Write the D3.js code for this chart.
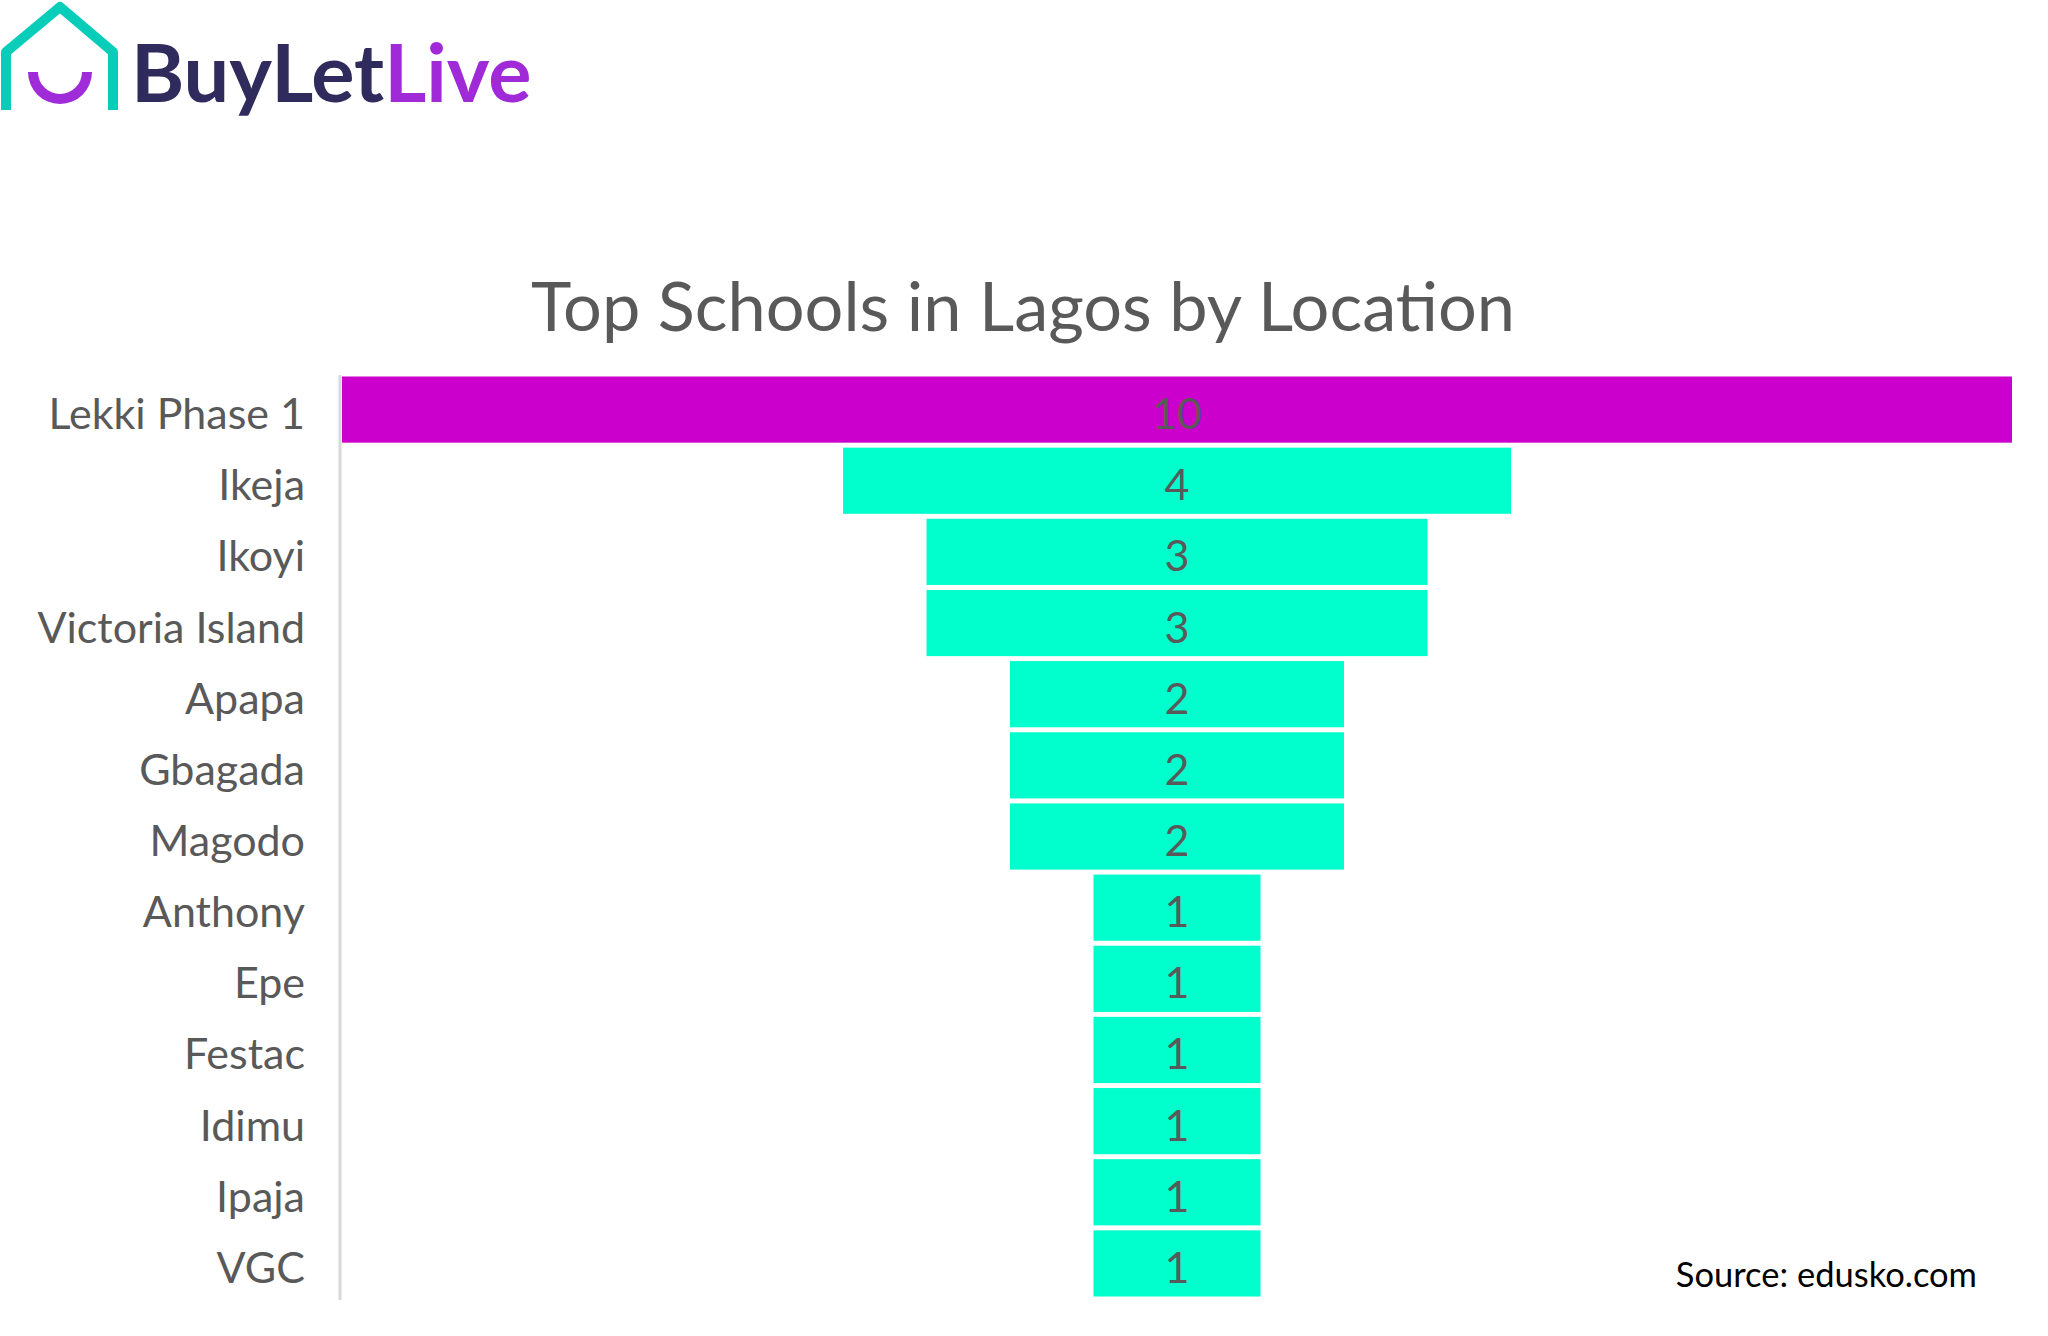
<!DOCTYPE html>
<html><head><meta charset="utf-8">
<script src="https://cdn.jsdelivr.net/npm/d3@7"></script>
<style>html,body{margin:0;padding:0;background:#fff;}svg{display:block;}</style>
</head><body>
<script>
const categories = ["Lekki Phase 1","Ikeja","Ikoyi","Victoria Island","Apapa","Gbagada","Magodo","Anthony","Epe","Festac","Idimu","Ipaja","VGC"];
const values = [10,4,3,3,2,2,2,1,1,1,1,1,1];
const highlight = ["Lekki Phase 1"];
const title = "Top Schools in Lagos by Location";
const source = "Source: edusko.com";

const W = 2048, H = 1336;
const svg = d3.select("body").append("svg").attr("width", W).attr("height", H);

// logo
const logo = svg.append("g");
logo.append("path")
  .attr("d", "M6,110 L6,52 L60,7 L113,52 L113,110")
  .attr("fill","none").attr("stroke","#07cdb9").attr("stroke-width",10).attr("stroke-linejoin","round");
logo.append("path")
  .attr("d", d3.arc()({innerRadius:22, outerRadius:32, startAngle:Math.PI/2, endAngle:Math.PI*1.5}))
  .attr("transform","translate(60,72)").attr("fill","#a02bd8");
const lt = logo.append("text").attr("x",131).attr("y",102)
  .style("font-family","Lato, 'Open Sans', sans-serif").style("font-weight","700").style("font-size","81px");
lt.append("tspan").text("BuyLet").attr("fill","#2f2b5c");
lt.append("tspan").text("Live").attr("fill","#a12ad8");

// title
svg.append("text").attr("x",1023).attr("y",331).attr("text-anchor","middle")
  .style("font-family","Lato, sans-serif").style("font-size","68.5px").attr("fill","#595959").text(title);

const center = 1177, unit = 167;
const x = d3.scaleLinear().domain([0, d3.max(values)]).range([0, unit*d3.max(values)]);
const y = d3.scaleBand().domain(categories).range([374, 1299]).paddingInner(0.07).paddingOuter(0.035);

// axis line
svg.append("line").attr("x1",340).attr("x2",340).attr("y1",375).attr("y2",1300)
  .attr("stroke","#d9d9d9").attr("stroke-width",3);

const data = categories.map((c,i)=>({c, v: values[i]}));
svg.selectAll("rect.bar").data(data).join("rect").attr("class","bar")
  .attr("x", d => center - x(d.v)/2).attr("width", d => x(d.v))
  .attr("y", d => y(d.c)).attr("height", y.bandwidth())
  .attr("fill", d => highlight.includes(d.c) ? "#cc00cc" : "#00ffcc");

svg.selectAll("text.val").data(data).join("text").attr("class","val")
  .attr("x", center).attr("y", d => y(d.c)+y.bandwidth()/2 + 4).attr("dy","0.36em")
  .attr("text-anchor","middle").style("font-family","Lato, sans-serif").style("font-size","43px")
  .attr("fill","#595959").text(d => d.v);

svg.selectAll("text.cat").data(data).join("text").attr("class","cat")
  .attr("x", 305).attr("y", d => y(d.c)+y.bandwidth()/2 + 4).attr("dy","0.36em")
  .attr("text-anchor","end").style("font-family","Lato, sans-serif").style("font-size","43px")
  .attr("fill","#595959").text(d => d.c);

svg.append("text").attr("x",1977).attr("y",1287).attr("text-anchor","end")
  .style("font-family","Lato, sans-serif").style("font-size","34.5px").attr("fill","#000").text(source);
</script>
</body></html>
